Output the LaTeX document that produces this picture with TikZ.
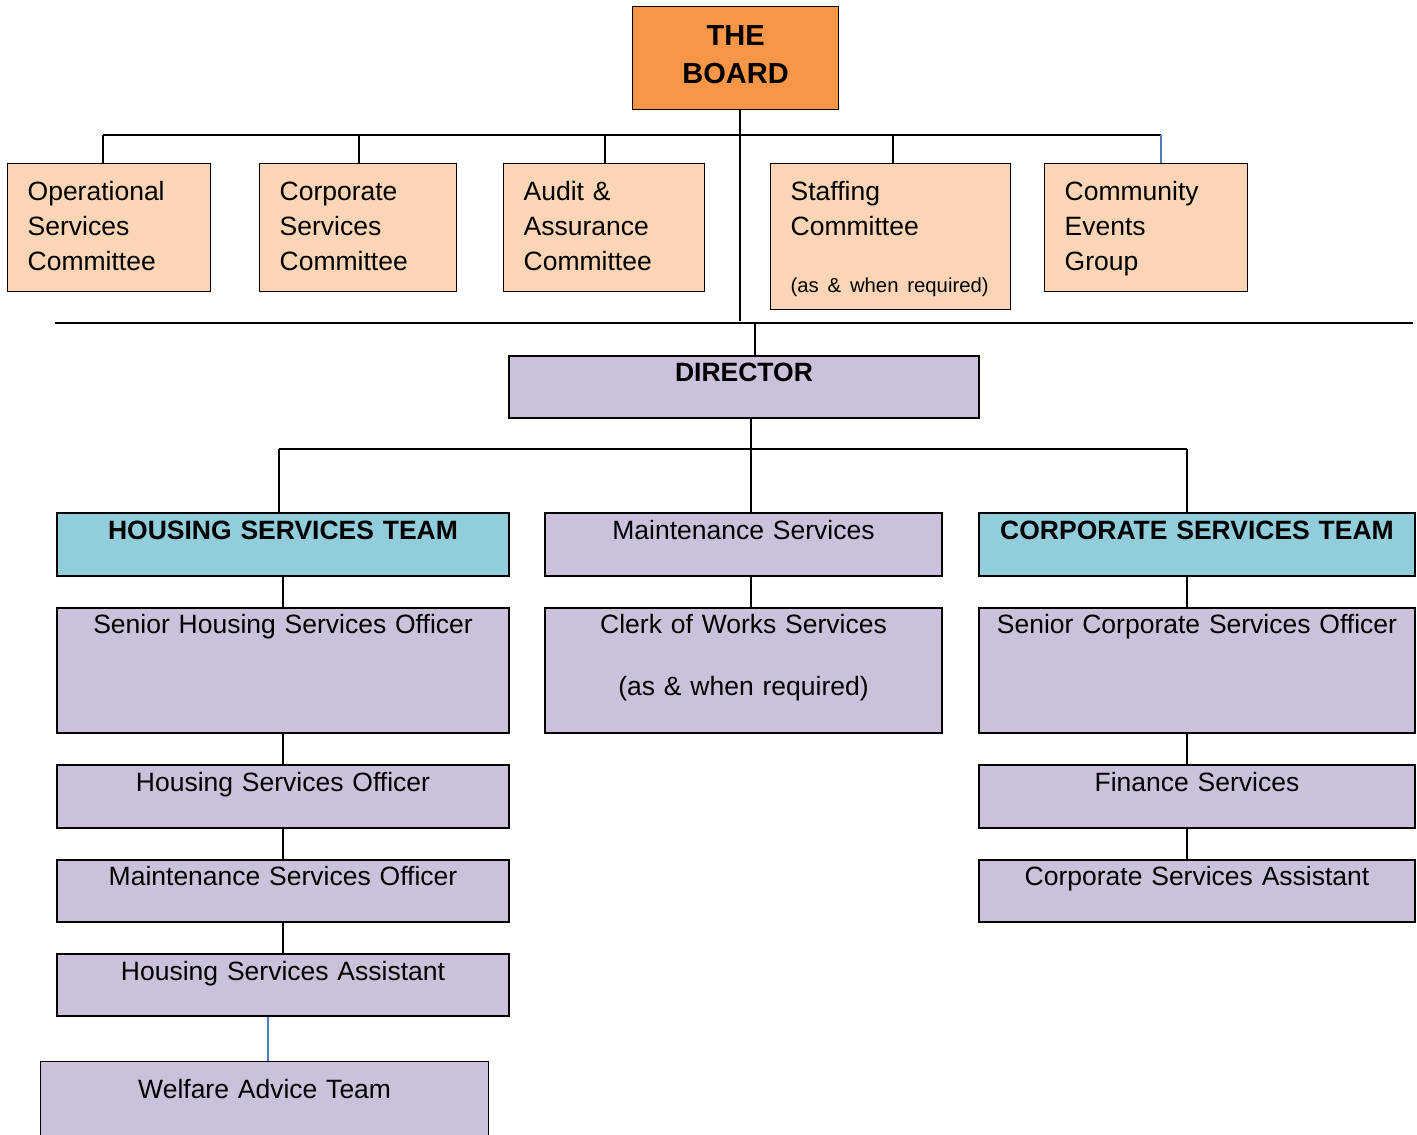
\documentclass[tikz,border=0pt]{standalone}
\usepackage{fontspec}
\setmainfont{Liberation Sans}
\usepackage{xcolor}

\definecolor{boardorange}{HTML}{F79646}
\definecolor{peach}{HTML}{FBD5B5}
\definecolor{lilac}{HTML}{CCC1DA}
\definecolor{teamblue}{HTML}{92CDDC}
\definecolor{linkblue}{HTML}{4A7EBB}

\newcommand\bodyfont{\fontsize{26.5}{35}\selectfont}
\newcommand\notefont{\fontsize{20.3}{25}\selectfont}

\tikzset{
  % boxes are placed by their top left corner, sizes in pt
  box/.style={rectangle, draw=black, line width=2pt, fill=#1, inner sep=0pt, anchor=north west, font=\bodyfont},
  box/.default={lilac},
  cttee/.style={box=peach, line width=1.3pt, align=left, inner xsep=20pt, text height=36.5pt},
  post/.style={box, align=center},
  team/.style={box=teamblue, align=center, font=\bodyfont\bfseries},
  link/.style={line width=1.6pt, black},
  bluelink/.style={line width=1.6pt, linkblue},
  rule/.style={line width=2.6pt, black},
}

\begin{document}
\begin{tikzpicture}[x=1pt, y=-1pt]
    \useasboundingbox (0,0) rectangle (1417,1135);

    % Board
    \node[box=boardorange, line width=1.3pt, align=center, text width=206pt, text height=39pt, text depth=64pt,
          font=\fontsize{29}{38}\selectfont\bfseries] (board) at (632,6) {THE\\BOARD};

    % Committees
    \node[cttee, text width=163pt, text depth=91.5pt] (opsc) at (7,163) {Operational\\Services\\Committee};
    \node[cttee, text width=157pt, text depth=91.5pt] (corpc) at (259,163) {Corporate\\Services\\Committee};
    \node[cttee, text width=161pt, text depth=91.5pt] (audc) at (503,163) {Audit \&\\Assurance\\Committee};
    \node[cttee, text width=200pt, text depth=109.5pt] (stfc) at (770,163) {Staffing\\Committee\\[22pt]\mbox{\notefont (as \& when required)}};
    \node[cttee, text width=163pt, text depth=91.5pt] (commg) at (1044,163) {Community\\Events\\Group};

    % Director
    \node[post, text width=470pt, text height=25.5pt, text depth=36.5pt, font=\bodyfont\bfseries] (dir) at (508,355) {DIRECTOR};

    % Teams
    \node[team, text width=452pt, text height=26.5pt, text depth=36.5pt] (hst) at (56,512) {HOUSING SERVICES TEAM};
    \node[post, text width=397pt, text height=26.5pt, text depth=36.5pt] (maint) at (544,512) {Maintenance Services};
    \node[team, text width=436pt, text height=26.5pt, text depth=36.5pt] (cst) at (978,512) {CORPORATE SERVICES TEAM};

    % Senior posts
    \node[post, text width=452pt, text height=25.5pt, text depth=99.5pt] (shso) at (56,607) {Senior Housing Services Officer};
    \node[post, text width=397pt, text height=25.5pt, text depth=99.5pt] (clerk) at (544,607) {Clerk of Works Services\\[27pt](as \& when required)};
    \node[post, text width=436pt, text height=25.5pt, text depth=99.5pt] (scso) at (978,607) {Senior Corporate Services Officer};

    % Housing side
    \node[post, text width=452pt, text height=26.5pt, text depth=36.5pt] (hso) at (56,764) {Housing Services Officer};
    \node[post, text width=452pt, text height=25.5pt, text depth=36.5pt] (mso) at (56,859) {Maintenance Services Officer};
    \node[post, text width=452pt, text height=26.5pt, text depth=35.5pt] (hsa) at (56,953) {Housing Services Assistant};
    \node[post, line width=1.3pt, text width=448pt, text height=36.5pt, text depth=80pt] (welf) at (40,1061) {Welfare Advice Team};

    % Corporate side
    \node[post, text width=436pt, text height=26.5pt, text depth=36.5pt] (fin) at (978,764) {Finance Services};
    \node[post, text width=436pt, text height=25.5pt, text depth=36.5pt] (csa) at (978,859) {Corporate Services Assistant};

    % Board to committees
    \coordinate (cbusW) at (103,135);
    \coordinate (cbusE) at (1161,135);
    \coordinate (split) at (740,321);
    \draw[link] (cbusW) -- (cbusE);
    \foreach \n/\x in {opsc/103, corpc/359, audc/605, stfc/893}
      \draw[link] (\x,135) -- (\n.north -| \x,0);
    \draw[bluelink] (cbusE) -- (commg.north -| cbusE);
    \draw[link] (board.south -| split) -- (split);

    % Rule across and down to the director
    \coordinate (ruleW) at (55,323);
    \coordinate (ruleE) at (1413,323);
    \draw[rule] (ruleW) -- (ruleE);
    \draw[link] (755,323) -- (dir.north -| 755,0);

    % Director to teams
    \coordinate (tbusW) at (279,449);
    \coordinate (tbusE) at (1187,449);
    \draw[link] (dir.south -| 751,0) -- (751,449);
    \draw[link] (tbusW) -- (tbusE);
    \draw[link] (tbusW) -- (hst.north -| tbusW);
    \draw[link] (751,449) -- (maint.north -| 751,0);
    \draw[link] (tbusE) -- (cst.north -| tbusE);

    % Chains
    \draw[link] (hst.south) -- (shso.north);
    \draw[link] (shso.south) -- (hso.north);
    \draw[link] (hso.south) -- (mso.north);
    \draw[link] (mso.south) -- (hsa.north);
    \draw[bluelink] (hsa.south -| 268,0) -- (welf.north -| 268,0);
    \draw[link] (maint.south -| 751,0) -- (clerk.north -| 751,0);
    \draw[link] (cst.south -| 1187,0) -- (scso.north -| 1187,0);
    \draw[link] (scso.south -| 1187,0) -- (fin.north -| 1187,0);
    \draw[link] (fin.south -| 1187,0) -- (csa.north -| 1187,0);
  \end{tikzpicture}
\end{document}
